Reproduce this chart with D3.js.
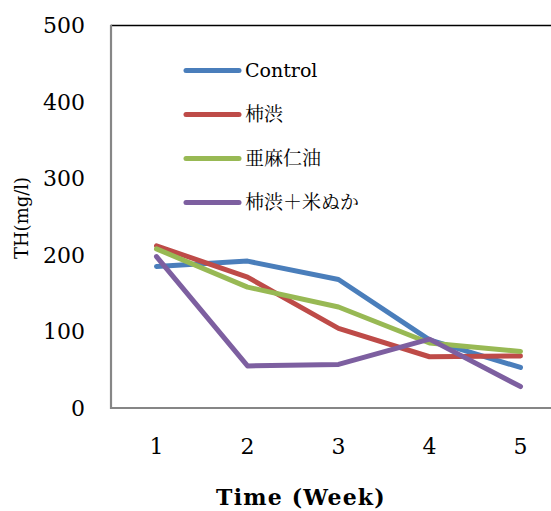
<!DOCTYPE html>
<html><head><meta charset="utf-8">
<script src="https://cdn.jsdelivr.net/npm/d3@7"></script>
<style>body{margin:0;background:#fff}svg{display:block}</style>
</head><body>
<svg id="c" width="551" height="511"></svg>
<script>
const weeks = ["1","2","3","4","5"];
const seriesNames = ["Control","柿渋","亜麻仁油","柿渋＋米ぬか"];
const control = [185, 192, 168, 89, 53];
const kakishibu = [212, 171, 104, 67, 68];
const amani = [208, 158, 132, 85, 74];
const kakiKome = [198, 55, 57, 90, 28];
const yTicks = [0, 100, 200, 300, 400, 500];
const colors = ["#4a7ebb", "#be4b48", "#98b954", "#7d5fa0"];
const allSeries = [control, kakishibu, amani, kakiKome];

const svg = d3.select("#c");
const serif = "'DejaVu Serif', 'Noto Serif CJK JP', 'Noto Sans CJK JP', serif";
const x = d3.scaleBand().domain(weeks).range([111, 566]);
const y = d3.scaleLinear().domain([0, 500]).range([408, 25.5]);

// plot frame
svg.append("line").attr("x1", 111).attr("x2", 566).attr("y1", y(500)).attr("y2", y(500))
  .attr("stroke", "#000").attr("stroke-width", 1.5);
svg.append("line").attr("x1", 111).attr("x2", 111).attr("y1", y(500)-0.75).attr("y2", y(0)+1)
  .attr("stroke", "#868686").attr("stroke-width", 2.2);
svg.append("line").attr("x1", 110).attr("x2", 566).attr("y1", y(0)).attr("y2", y(0))
  .attr("stroke", "#868686").attr("stroke-width", 2.2);

// y axis labels
const yAxis = d3.axisLeft(y).tickValues(yTicks).tickSize(0).tickPadding(26);
const ga = svg.append("g").attr("transform", "translate(111,0)").call(yAxis);
ga.select(".domain").remove();
ga.selectAll("text").attr("font-family", serif).attr("font-size", 22).attr("fill", "#000");

// x axis labels
const xAxis = d3.axisBottom(x).tickSize(0).tickPadding(30);
const gx = svg.append("g").attr("transform", `translate(0,${y(0)})`).call(xAxis);
gx.select(".domain").remove();
gx.selectAll("text").attr("font-family", serif).attr("font-size", 22).attr("fill", "#000");

// lines
const line = d3.line().x((d, i) => x(weeks[i]) + x.bandwidth() / 2).y(d => y(d));
allSeries.forEach((s, k) => {
  svg.append("path").datum(s).attr("d", line).attr("fill", "none")
    .attr("stroke", colors[k]).attr("stroke-width", 5)
    .attr("stroke-linejoin", "round").attr("stroke-linecap", "round");
});

// legend
const legY = [70.5, 114.5, 158.5, 202.5];
seriesNames.forEach((n, k) => {
  svg.append("line").attr("x1", 186).attr("x2", 239).attr("y1", legY[k]).attr("y2", legY[k])
    .attr("stroke", colors[k]).attr("stroke-width", 5).attr("stroke-linecap", "round");
  svg.append("text").attr("x", 245).attr("y", legY[k]).attr("dy", "0.36em")
    .attr("font-family", serif).attr("font-size", 19).attr("fill", "#000").text(n);
});

// axis titles
svg.append("text").attr("transform", "translate(28,218) rotate(-90)").attr("text-anchor", "middle")
  .attr("font-family", serif).attr("font-size", 18).attr("fill", "#000").text("TH(mg/l)");
svg.append("text").attr("x", 301).attr("y", 505).attr("text-anchor", "middle")
  .attr("font-family", serif).attr("font-weight", "bold").attr("font-size", 22)
  .attr("letter-spacing", 1.2).attr("fill", "#000").text("Time (Week)");
</script>
</body></html>
